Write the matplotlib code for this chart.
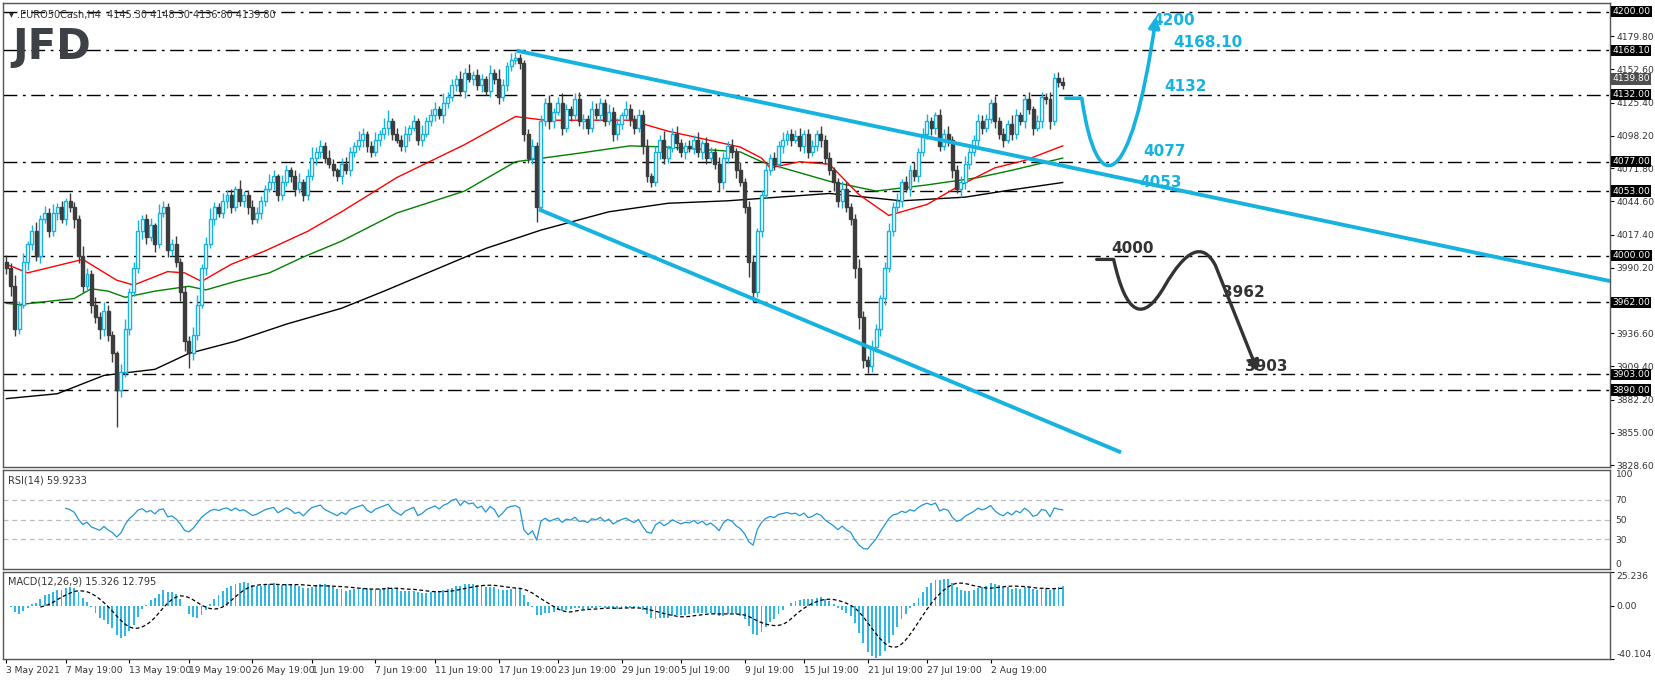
import numpy as np
import matplotlib
matplotlib.use("Agg")
import matplotlib.pyplot as plt
from matplotlib.path import Path
from matplotlib.patches import FancyArrowPatch
import matplotlib.transforms as mtrans

# ---------------- data ----------------
closes = [
 3990,3975,3940,3960,3995,4010,4020,4000,4030,4035,
 4020,4035,4040,4030,4045,4040,4030,4000,3975,3985,
 3960,3950,3940,3955,3935,3920,3890,3905,3940,3970,
 3990,4020,4030,4015,4025,4010,4035,4040,4005,4010,
 3995,3970,3930,3920,3935,3960,3990,4010,4030,4040,
 4035,4045,4050,4040,4055,4045,4050,4040,4030,4035,
 4045,4055,4060,4065,4050,4060,4070,4065,4055,4060,
 4050,4065,4080,4085,4090,4080,4075,4070,4065,4075,
 4070,4085,4090,4095,4100,4090,4085,4095,4100,4105,
 4110,4100,4095,4090,4100,4105,4110,4095,4100,4110,
 4115,4120,4115,4125,4130,4140,4145,4135,4150,4145,
 4148,4140,4145,4135,4150,4145,4130,4140,4155,4160,
 4162,4158,4100,4080,4090,4040,4110,4125,4110,4118,
 4125,4105,4120,4115,4128,4110,4112,4105,4120,4115,
 4125,4110,4118,4100,4108,4115,4120,4112,4105,4115,
 4090,4065,4060,4085,4095,4080,4088,4100,4092,4085,
 4090,4088,4095,4085,4092,4080,4085,4075,4060,4080,
 4090,4085,4070,4060,4040,3995,3970,4020,4050,4070,
 4080,4075,4090,4095,4100,4095,4098,4090,4100,4085,
 4090,4100,4095,4080,4070,4060,4045,4055,4040,4030,
 3990,3950,3915,3910,3925,3940,3965,3990,4020,4040,
 4045,4060,4055,4070,4065,4085,4100,4110,4105,4115,
 4090,4100,4095,4070,4055,4060,4075,4085,4095,4110,
 4105,4112,4125,4110,4100,4095,4108,4100,4115,4110,
 4128,4120,4105,4110,4130,4128,4110,4145.3,4142,4139.8]
first_open = 3995
wick_up = [
 6,4,9,3,7,2,5,8,3,6, 4,7,3,5,2,6,4,3,8,5, 3,6,4,7,5,3,2,6,8,4,
 5,9,3,4,6,2,7,5,3,4, 6,3,5,4,7,8,3,5,9,4, 3,6,4,5,2,7,3,4,6,5,
 4,3,7,5,2,6,4,3,5,8, 3,6,9,4,5,3,7,4,2,5, 6,4,3,7,5,2,4,6,3,8,
 9,3,5,4,6,2,5,3,7,4, 5,6,3,8,4,5,3,6,4,7, 3,5,4,2,6,3,8,5,4,6,
 5,3,2,4,6,3,5,4,7,3, 5,8,4,3,5,6,4,3,7,5, 4,3,6,4,5,3,7,4,3,5,
 4,6,3,5,4,7,3,5,6,4, 3,5,4,6,3,5,4,3,6,5, 4,6,3,7,4,5,6,3,4,5,
 3,5,4,6,3,4,5,7,3,4, 5,3,6,4,5,3,4,6,5,3, 4,7,5,3,6,4,3,5,7,4,
 6,3,5,4,7,3,5,6,4,3, 5,4,6,3,4,5,7,3,4,6, 5,4,3,6,4,5,3,7,5,3,
 4,6,3,5,4,3,6,4,5,4]
wick_dn = [
 5,8,6,4,3,7,5,4,6,3, 5,4,6,3,5,4,7,6,5,4, 7,5,8,6,5,7,30,6,4,5,
 3,4,6,5,3,7,4,3,6,5, 4,7,8,12,5,4,3,6,4,5, 3,4,6,5,3,4,5,6,4,3,
 5,4,3,6,5,4,3,5,6,4, 5,4,3,6,5,4,3,5,4,6, 3,5,4,3,6,5,4,3,5,4,
 6,5,3,4,5,6,3,4,5,3, 4,5,3,6,4,3,5,4,6,3, 5,4,6,3,5,4,6,3,5,4,
 3,5,6,4,5,12,3,4,6,5, 3,6,4,5,3,4,6,5,4,3, 5,4,3,6,5,4,3,6,5,4,
 7,5,4,3,6,5,4,3,5,4, 6,3,5,4,6,5,3,4,7,5, 4,5,6,3,5,12,8,4,5,3,
 4,5,3,6,4,5,3,4,6,5, 3,4,6,5,4,7,5,6,4,5, 8,10,7,6,5,4,6,5,3,4,
 4,5,3,6,4,5,3,4,6,5, 4,3,5,6,4,7,5,4,3,6, 5,4,3,5,4,6,3,5,4,3,
 5,4,6,3,5,4,6,3,4,3]

# moving averages (bar index, value)
ma_red_x = [0,5,18,26,30,38,42,46,53,61,71,79,92,108,120,127,147,156,173,178,180,187,194,201,208,217,225,233,240,249]
ma_red_y = [3993,3986,3997,3980,3976,3987,3986,3979,3993,4004,4020,4036,4064,4091,4114,4111,4111,4102,4089,4080,4072,4077,4075,4050,4033,4042,4058,4072,4078,4090]
ma_grn_x = [0,3,16,20,24,28,35,43,47,54,62,70,79,92,108,120,135,147,156,173,178,194,205,217,229,237,249]
ma_grn_y = [3961,3960,3965,3973,3971,3966,3971,3975,3972,3979,3986,3999,4012,4035,4053,4077,4084,4090,4089,4085,4077,4061,4053,4058,4064,4070,4080]
ma_blk_x = [0,12,23,35,43,54,66,79,89,113,126,142,156,170,194,211,226,237,249]
ma_blk_y = [3883,3887,3902,3907,3920,3930,3944,3957,3971,4006,4021,4036,4043,4045,4051,4045,4048,4054,4060]

levels_boxed = [4200.00,4168.10,4132.00,4077.00,4053.00,4000.00,3962.00,3903.00,3890.00]
price_ticks = [4179.80,4152.60,4125.40,4098.20,4071.80,4044.60,4017.40,3990.20,3936.60,3909.40,3882.20,3855.00,3828.60]
date_pos = [0,14,29,43,58,72,87,101,116,130,145,159,174,188,203,217,232]
date_labels = ["3 May 2021","7 May 19:00","13 May 19:00","19 May 19:00","26 May 19:00","1 Jun 19:00",
               "7 Jun 19:00","11 Jun 19:00","17 Jun 19:00","23 Jun 19:00","29 Jun 19:00","5 Jul 19:00",
               "9 Jul 19:00","15 Jul 19:00","21 Jul 19:00","27 Jul 19:00","2 Aug 19:00"]

CYAN = "#16b2e0"
DARK = "#3c3c3c"
W, H = 1655, 680
FS = 6.6

fig = plt.figure(figsize=(W/100, H/100), dpi=100)
def axpix(l, t, r, b):
    return fig.add_axes([l/W, 1-b/H, (r-l)/W, (b-t)/H])

ax = axpix(3, 3, 1610, 467)
axr = axpix(3, 470, 1610, 569)
axm = axpix(3, 572, 1610, 659)
XL = (-0.8, 378)

c = np.array(closes, float)
o = np.concatenate([[first_open], c[:-1]])
n = len(c)
x = np.arange(n)
hi = np.maximum(o, c) + np.array(wick_up)
lo = np.minimum(o, c) - np.array(wick_dn)
up = c >= o
edge = np.where(up, CYAN, DARK)
fill = np.where(up, "white", DARK)

for lv in levels_boxed:
    ax.axhline(lv, color="black", lw=1.0, ls=(0, (10, 4, 2, 4)), zorder=1)

ax.plot(ma_blk_x, ma_blk_y, color="black", lw=1.0, zorder=2)
ax.plot(ma_grn_x, ma_grn_y, color="green", lw=1.0, zorder=2)
ax.plot(ma_red_x, ma_red_y, color="red", lw=1.0, zorder=2)

ax.vlines(x, lo, hi, colors=edge, lw=1.0, zorder=3)
ax.bar(x, np.maximum(np.abs(c - o), 0.4), bottom=np.minimum(o, c), width=0.7,
       color=fill, edgecolor=edge, linewidth=1.0, zorder=4)

ax.plot([120.25, 379.75], [4168, 3978], color=CYAN, lw=2.8, zorder=5, solid_capstyle="butt")
ax.plot([125.5, 262.75], [4038, 3839], color=CYAN, lw=2.8, zorder=5, solid_capstyle="butt")

p1 = Path([(249.75, 4129), (253.5, 4129), (257, 4045), (265, 4050), (271, 4196)],
          [Path.MOVETO, Path.LINETO, Path.CURVE4, Path.CURVE4, Path.CURVE4])
ax.add_patch(FancyArrowPatch(path=p1, arrowstyle="-|>", mutation_scale=16, color=CYAN, lw=2.6, zorder=6))
p2 = Path([(257, 3997), (261, 3997), (264, 3950), (268, 3945), (273, 3975),
           (278, 4005), (282, 4012), (285, 3992), (295, 3905)],
          [Path.MOVETO, Path.LINETO, Path.CURVE4, Path.CURVE4, Path.CURVE4,
           Path.CURVE4, Path.CURVE4, Path.CURVE4, Path.LINETO])
ax.add_patch(FancyArrowPatch(path=p2, arrowstyle="-|>", mutation_scale=16, color="#333333", lw=2.4, zorder=6))

lbls = [(270, 4193, "4200", CYAN), (275, 4175, "4168.10", CYAN), (273, 4139, "4132", CYAN),
        (268, 4085, "4077", CYAN), (267, 4060, "4053", CYAN), (260.5, 4006, "4000", "#333333"),
        (286.5, 3970, "3962", "#333333"), (292, 3909, "3903", "#333333")]
for bx, py, t, col in lbls:
    ax.text(bx, py, t, color=col, fontsize=11, fontweight="bold", ha="left", va="center", zorder=7)

ax.set_xlim(*XL)
ax.set_ylim(3827, 4207)
ax.set_xticks([])
ax.yaxis.tick_right()
ax.set_yticks(price_ticks)
ax.set_yticklabels([f"{v:.2f}" for v in price_ticks], fontsize=FS, color="#333333")
ax.tick_params(axis="y", length=3, pad=1.5)
tr = mtrans.blended_transform_factory(ax.transAxes, ax.transData)
for lv in levels_boxed:
    ax.text(1.0015, lv, f"{lv:.2f}", transform=tr, fontsize=FS, color="white", va="center", ha="left",
            bbox=dict(boxstyle="square,pad=0.12", fc="black", ec="none"), zorder=10, clip_on=False)
ax.text(1.0015, 4139.8 + 5, "4139.80", transform=tr, fontsize=FS, color="white", va="center", ha="left",
        bbox=dict(boxstyle="square,pad=0.12", fc="#505050", ec="none"), zorder=9, clip_on=False)

ax.text(0.004, 0.985, "\u25be .EURO50Cash,H4  4145.30 4148.30 4136.80 4139.80", transform=ax.transAxes,
        fontsize=7, color="#333333", va="top", ha="left")
ax.text(0.006, 0.905, "JFD", transform=ax.transAxes, fontsize=30, fontweight="bold", color="#3d4045",
        va="center", ha="left")

# RSI(14)
d = np.diff(c)
g = np.where(d > 0, d, 0.0); l_ = np.where(d < 0, -d, 0.0)
rsi = np.full(n, np.nan)
ag, al = g[:14].mean(), l_[:14].mean()
for i in range(14, n):
    if i > 14:
        ag = (ag * 13 + g[i-1]) / 14; al = (al * 13 + l_[i-1]) / 14
    rsi[i] = 100 - 100 / (1 + ag / max(al, 1e-9))
for lv in (70, 50, 30):
    axr.axhline(lv, color="#bbbbbb", lw=0.9, ls=(0, (4, 3)))
axr.plot(x, rsi, color="#1e96d8", lw=0.9)
axr.set_xlim(*XL); axr.set_ylim(0, 100)
axr.set_xticks([]); axr.yaxis.tick_right()
axr.set_yticks([0, 30, 50, 70, 100])
axr.set_yticklabels(["0", "30", "50", "70", "100"], fontsize=FS, color="#333333")
axr.get_yticklabels()[0].set_va("bottom"); axr.get_yticklabels()[-1].set_va("top")
axr.tick_params(axis="y", length=0, pad=4)
axr.text(0.003, 0.94, "RSI(14) 59.9233", transform=axr.transAxes, fontsize=7, color="#333333", va="top")

# MACD
def ema(v, p):
    a = 2 / (p + 1); out = np.empty_like(v); out[0] = v[0]
    for i in range(1, len(v)):
        out[i] = a * v[i] + (1 - a) * out[i-1]
    return out
macd = ema(c, 12) - ema(c, 26)
sig = np.convolve(macd, np.ones(9) / 9, mode="full")[:n]
sig[:8] = np.nan
axm.bar(x, macd, width=0.45, color="#2fb8e6")
axm.plot(x, sig, color="black", lw=0.9, ls=(0, (3, 2)))
axm.set_xlim(*XL); axm.set_ylim(-40.104, 25.236)
axm.yaxis.tick_right()
axm.set_yticks([25.236, 0.0, -40.104])
axm.set_yticklabels(["25.236", "0.00", "-40.104"], fontsize=FS, color="#333333")
axm.get_yticklabels()[0].set_va("top"); axm.get_yticklabels()[-1].set_va("bottom")
axm.tick_params(axis="y", length=3, pad=1.5)
axm.set_xticks(date_pos)
axm.set_xticklabels(date_labels, fontsize=FS, color="#333333", ha="left")
axm.tick_params(axis="x", length=3, pad=2)
axm.text(0.003, 0.95, "MACD(12,26,9) 15.326 12.795", transform=axm.transAxes, fontsize=7, color="#333333", va="top")

for a in (ax, axr, axm):
    for s in a.spines.values():
        s.set_color("#555555"); s.set_linewidth(1.0)

fig.savefig("out.png", dpi=100, facecolor="white")
